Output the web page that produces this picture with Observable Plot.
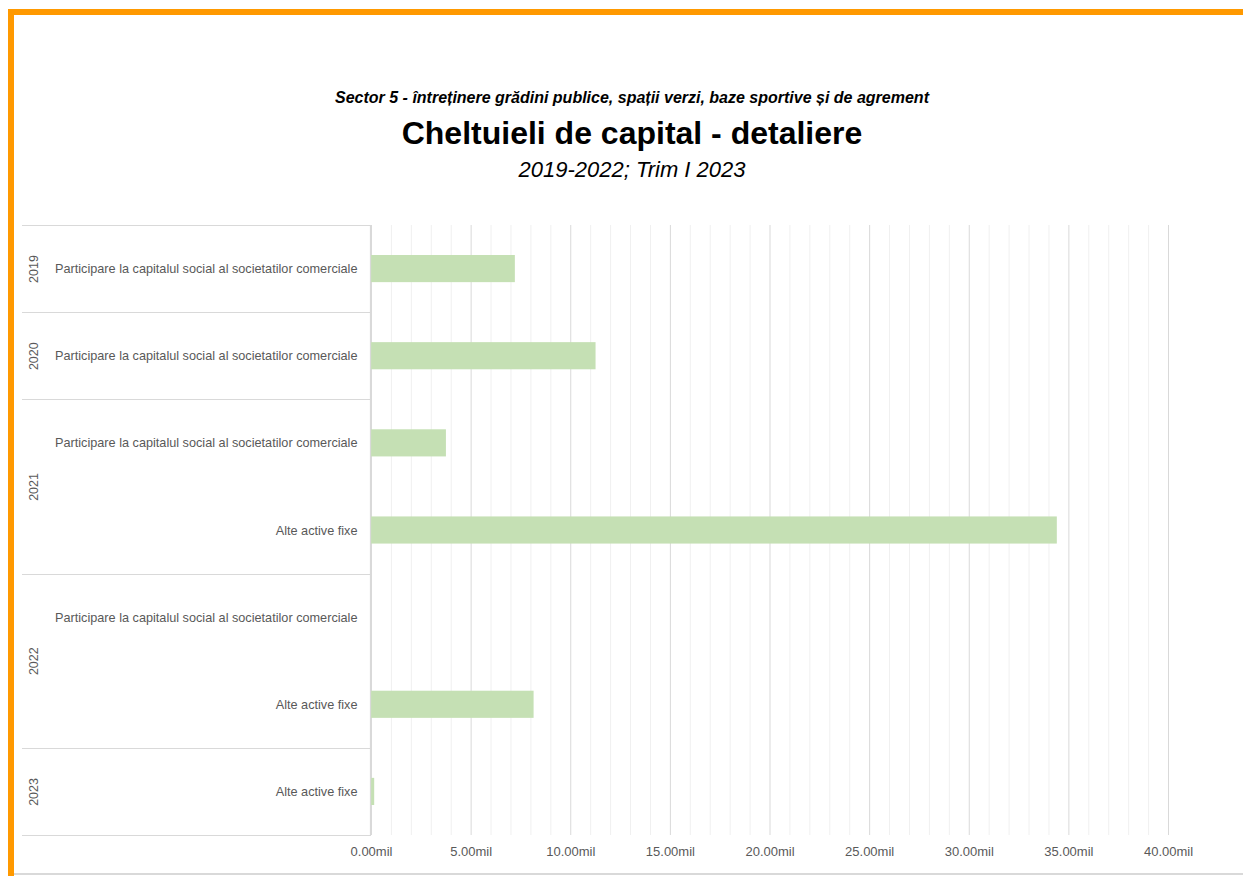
<!DOCTYPE html>
<html>
<head>
<meta charset="utf-8">
<script src="https://cdn.jsdelivr.net/npm/d3@7"></script>
<script src="https://cdn.jsdelivr.net/npm/@observablehq/plot@0.6"></script>
<style>
  html, body { margin: 0; padding: 0; background: #fff; }
  #frame { position: relative; width: 1243px; height: 876px; overflow: hidden; font-family: "Liberation Sans", Arial, sans-serif; }
  #ot { position: absolute; left: 8px; top: 9px; width: 1235px; height: 6px; background: #ff9900; }
  #ol { position: absolute; left: 8px; top: 9px; width: 6px; height: 867px; background: #ff9900; }
  #bb { position: absolute; left: 14px; top: 873px; width: 1229px; height: 2px; background: #d9d9d9; }
  .t { position: absolute; left: 0; width: 1264px; text-align: center; color: #000; white-space: nowrap; }
  #sup { top: 88px; font-size: 16px; font-weight: bold; font-style: italic; line-height: 20px; }
  #title { top: 115px; font-size: 32px; font-weight: bold; line-height: 36px; }
  #sub { top: 157px; font-size: 22px; font-style: italic; line-height: 26px; }
  #chart { position: absolute; left: 0; top: 200px; }
</style>
</head>
<body>
<div id="frame">
  <div id="ot"></div><div id="ol"></div><div id="bb"></div>
  <div class="t" id="sup">Sector 5 - întreținere grădini publice, spații verzi, baze sportive și de agrement</div>
  <div class="t" id="title">Cheltuieli de capital - detaliere</div>
  <div class="t" id="sub">2019-2022; Trim I 2023</div>
  <div id="chart"></div>
</div>
<script>
const years = ["2019", "2020", "2021", "2021", "2022", "2022", "2023"];
const categories = [
  "Participare la capitalul social al societatilor comerciale",
  "Participare la capitalul social al societatilor comerciale",
  "Participare la capitalul social al societatilor comerciale",
  "Alte active fixe",
  "Participare la capitalul social al societatilor comerciale",
  "Alte active fixe",
  "Alte active fixe"
];
const values = [7.22, 11.27, 3.76, 34.42, 0, 8.16, 0.16]; // milioane lei
const majorTicks = [0, 5, 10, 15, 20, 25, 30, 35, 40];
const minorTicks = d3.range(1, 40).filter(d => d % 5 !== 0);

const rows = values.map((v, i) => ({i, year: years[i], cat: categories[i], value: v}));

// year groups
const groups = [];
years.forEach((y, i) => {
  const last = groups[groups.length - 1];
  if (last && last.year === y) last.end = i;
  else groups.push({year: y, start: i, end: i});
});
groups.forEach(g => { g.center = (g.start + g.end) / 2; });
const boundaries = [-0.5, ...groups.map(g => g.end + 0.5)];

const W = 1243, H = 676;
const textColor = "#595959";

const plot = Plot.plot({
  width: W,
  height: H,
  marginLeft: 371,
  marginRight: 75,
  marginTop: 25,
  marginBottom: 41,
  style: {fontFamily: "Liberation Sans, Arial, sans-serif", fontSize: "12px", color: textColor, background: "transparent"},
  x: {domain: [0, 40], label: null},
  y: {domain: [-0.5, values.length - 0.5], reverse: true, axis: null},
  marks: [
    Plot.ruleX(minorTicks, {stroke: "#f0f0f0", strokeWidth: 1}),
    Plot.ruleX(majorTicks, {stroke: "#d9d9d9", strokeWidth: 1}),
    Plot.rect(rows, {x1: 0, x2: "value", y1: d => d.i - 0.5, y2: d => d.i + 0.5, insetTop: 30, insetBottom: 30, fill: "#c5e0b4"}),
    Plot.text(rows, {y: "i", text: "cat", frameAnchor: "left", dx: -14, textAnchor: "end", fill: textColor, fontSize: 12.7}),
    Plot.text(groups, {y: "center", text: "year", frameAnchor: "left", dx: -338, rotate: -90, textAnchor: "middle", fill: textColor, fontSize: 12.5}),
    Plot.axisX(majorTicks, {tickFormat: d => d.toFixed(2) + "mil", tickSize: 0, tickPadding: 11, fill: textColor, fontSize: 13})
  ]
});
document.getElementById("chart").appendChild(plot);

// left category box lines (from the y scale)
const ys = plot.scale("y");
const xs = plot.scale("x");
const svg = d3.select(plot);
const x0 = xs.apply(0);
const g = svg.append("g").attr("stroke", "#d9d9d9").attr("stroke-width", 1.2);
boundaries.forEach(b => {
  const yy = Math.round(ys.apply(b)) + 0.5;
  g.append("line").attr("x1", 22).attr("x2", x0).attr("y1", yy).attr("y2", yy);
});
g.append("line").attr("x1", x0 - 0.5).attr("x2", x0 - 0.5)
  .attr("y1", ys.apply(boundaries[0])).attr("y2", ys.apply(boundaries[boundaries.length - 1]));
</script>
</body>
</html>
